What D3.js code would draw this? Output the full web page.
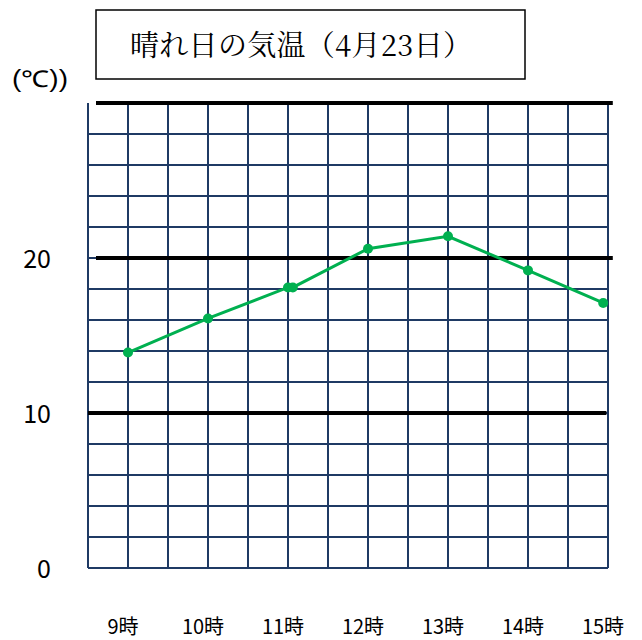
<!DOCTYPE html>
<html>
<head>
<meta charset="utf-8">
<script src="https://cdn.jsdelivr.net/npm/d3@7"></script>
<style>
  body { margin: 0; background: #fff; }
  svg { display: block; }
</style>
</head>
<body>
<div id="chart"></div>
<script>
// data
const title = "晴れ日の気温（4月23日）";
const unitLabel = "(℃))";
const hourLabels = ["9時", "10時", "11時", "12時", "13時", "14時", "15時"];
const hourTicks = [9, 10, 11, 12, 13, 14, 15];
// measurement times (the 11時 point is drawn twice in the original)
const times = [9, 10, 11, 11.06, 12, 13, 14, 14.94];
const temps = [13.9, 16.1, 18.1, 18.1, 20.6, 21.4, 19.2, 17.1];
const yLabels = [0, 10, 20];
const boldLines = [10, 20, 30];

const width = 642, height = 640;
const margin = { top: 103, right: 34, bottom: 72, left: 88 };

const svg = d3.select("#chart")
  .append("svg")
  .attr("width", width)
  .attr("height", height);

// scales
const x = d3.scaleLinear()
  .domain([8.5, 15])
  .range([margin.left, width - margin.right]);

const y = d3.scaleLinear()
  .domain([0, 30])
  .range([height - margin.bottom, margin.top]);

const navy = "#1f3a64";

// thin grid - horizontal every 2 degrees
svg.append("g")
  .selectAll("line")
  .data(d3.range(0, 30, 2))
  .join("line")
  .attr("x1", x(8.5))
  .attr("x2", x(15))
  .attr("y1", d => y(d))
  .attr("y2", d => y(d))
  .attr("stroke", navy)
  .attr("stroke-width", 2);

// thin grid - vertical every half hour
svg.append("g")
  .selectAll("line")
  .data(d3.range(8.5, 15.01, 0.5))
  .join("line")
  .attr("x1", d => x(d))
  .attr("x2", d => x(d))
  .attr("y1", y(30))
  .attr("y2", y(0))
  .attr("stroke", navy)
  .attr("stroke-width", 2);

// thick black lines at 10, 20, 30
svg.append("g")
  .selectAll("line")
  .data(boldLines)
  .join("line")
  .attr("x1", d => d === 10 ? x(8.5) : x(8.6))
  .attr("x2", d => d === 10 ? x(14.98) : x(15.06))
  .attr("y1", d => y(d))
  .attr("y2", d => y(d))
  .attr("stroke", "#000")
  .attr("stroke-width", 4);

// y labels
svg.append("g")
  .selectAll("text")
  .data(yLabels)
  .join("text")
  .attr("x", 51)
  .attr("y", d => y(d) + 3)
  .attr("text-anchor", "end")
  .attr("dominant-baseline", "middle")
  .style("font-family", "'Noto Sans CJK JP', sans-serif")
  .style("font-size", "25px")
  .text(d => d);

svg.append("text")
  .attr("x", 12)
  .attr("y", 81)
  .attr("dominant-baseline", "middle")
  .attr("textLength", 56)
  .attr("lengthAdjust", "spacingAndGlyphs")
  .style("font-family", "'Liberation Sans', Arial, sans-serif")
  .style("font-size", "23px")
  .text(unitLabel);

// x labels
svg.append("g")
  .selectAll("text")
  .data(hourLabels)
  .join("text")
  .attr("x", (d, i) => x(hourTicks[i]) - 5)
  .attr("y", 634)
  .attr("text-anchor", "middle")
  .style("font-family", "'Noto Sans CJK JP', sans-serif")
  .style("font-size", "20px")
  .text(d => d);

// temperature line
const points = times.map((t, i) => ({ t: t, v: temps[i] }));

svg.append("path")
  .datum(points)
  .attr("fill", "none")
  .attr("stroke", "#00b050")
  .attr("stroke-width", 3)
  .attr("d", d3.line().x(d => x(d.t)).y(d => y(d.v)));

svg.selectAll(".dot")
  .data(points)
  .join("circle")
  .attr("class", "dot")
  .attr("cx", d => x(d.t))
  .attr("cy", d => y(d.v))
  .attr("r", 5)
  .attr("fill", "#00b050");

// title box
svg.append("rect")
  .attr("x", 96)
  .attr("y", 10)
  .attr("width", 429)
  .attr("height", 69)
  .attr("fill", "#fff")
  .attr("stroke", "#000")
  .attr("stroke-width", 1.5);

svg.append("text")
  .attr("x", 130)
  .attr("y", 56)
  .attr("textLength", 342)
  .attr("lengthAdjust", "spacing")
  .style("font-family", "'Noto Serif CJK JP', 'Liberation Serif', serif")
  .style("font-size", "29px")
  .text(title);
</script>
</body>
</html>
